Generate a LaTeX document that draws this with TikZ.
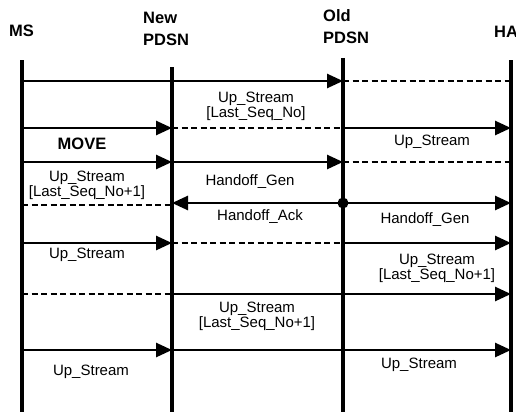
\documentclass[tikz,border=0pt]{standalone}
\usepackage{fontspec}
\setmainfont{Liberation Sans}
\usetikzlibrary{arrows.meta}
\begin{document}
\begin{tikzpicture}[x=1pt,y=-1pt,
  life/.style={line width=3.2pt},
  msg/.style={line width=2.6pt},
  dmsg/.style={line width=2pt, dash pattern=on 6pt off 3.5pt},
  arr/.style={-{Triangle[length=16pt,width=14pt]}},
  hdr/.style={font=\fontsize{16.5}{22}\bfseries\selectfont, align=left, inner sep=0pt},
  lbl/.style={font=\fontsize{15}{13.5}\selectfont, align=center, inner sep=0pt},
  mvlbl/.style={font=\fontsize{16.5}{18}\bfseries\selectfont, inner sep=0pt},
]
\useasboundingbox (0,0) rectangle (516,412);
% headers
\node[hdr, anchor=west] (hms) at (9,31) {MS};
\node[hdr, anchor=west] (hnew) at (143,29) {New\\PDSN};
\node[hdr, anchor=west] (hold) at (323,27) {Old\\PDSN};
\node[hdr, anchor=west] (hha) at (494,32) {HA};
% lifelines
\coordinate (msT) at (22,60);  \coordinate (msB) at (22,412);
\coordinate (npT) at (172,67); \coordinate (npB) at (172,412);
\coordinate (opT) at (343,58); \coordinate (opB) at (343,412);
\coordinate (haT) at (511,60); \coordinate (haB) at (511,412);
\draw[life] (msT) -- (msB);
\draw[life] (npT) -- (npB);
\draw[life] (opT) -- (opB);
\draw[life] (haT) -- (haB);
% row coordinates
\foreach \n/\y in {1/81,2/128,3/162,4/203,5/243,6/294,7/350}{
  \coordinate (ms\n) at (22,\y);
  \coordinate (np\n) at (172,\y);
  \coordinate (op\n) at (343,\y);
  \coordinate (ha\n) at (511,\y);
}
\coordinate (ms4d) at (22,205);
\coordinate (np4d) at (172,205);
% row 1
\draw[msg,arr] (ms1) -- (op1);
\draw[dmsg] (op1) -- (ha1);
% row 2
\draw[msg,arr] (ms2) -- (np2);
\draw[dmsg] (np2) -- (op2);
\draw[msg,arr] (op2) -- (ha2);
% row 3
\draw[msg,arr] (ms3) -- (np3);
\draw[msg,arr] (np3) -- (op3);
\draw[dmsg] (op3) -- (ha3);
% row 4
\draw[dmsg] (ms4d) -- (np4d);
\draw[msg,arr] (op4) -- (np4);
\draw[msg,arr] (op4) -- (ha4);
\fill (op4) circle (5.5pt);
% row 5
\draw[msg,arr] (ms5) -- (np5);
\draw[dmsg] (np5) -- (op5);
\draw[msg,arr] (op5) -- (ha5);
% row 6
\draw[dmsg] (ms6) -- (np6);
\draw[msg,arr] (np6) -- (ha6);
% row 7
\draw[msg,arr] (ms7) -- (np7);
\draw[msg,arr] (np7) -- (ha7);
% labels
\node[lbl] (l1) at (256,106) {Up\_Stream\\{[}Last\_Seq\_No{]}};
\node[mvlbl] (l2) at (82,144) {MOVE};
\node[lbl] (l3) at (432,142) {Up\_Stream};
\node[lbl] (l4) at (87,185) {Up\_Stream\\{[}Last\_Seq\_No+1{]}};
\node[lbl] (l5) at (250,182) {Handoff\_Gen};
\node[lbl] (l6) at (260,217) {Handoff\_Ack};
\node[lbl] (l7) at (425,220) {Handoff\_Gen};
\node[lbl] (l8) at (87,255) {Up\_Stream};
\node[lbl] (l9) at (437,268) {Up\_Stream\\{[}Last\_Seq\_No+1{]}};
\node[lbl] (l10) at (257,316) {Up\_Stream\\{[}Last\_Seq\_No+1{]}};
\node[lbl] (l11) at (91,372) {Up\_Stream};
\node[lbl] (l12) at (419,365) {Up\_Stream};
\end{tikzpicture}
\end{document}
